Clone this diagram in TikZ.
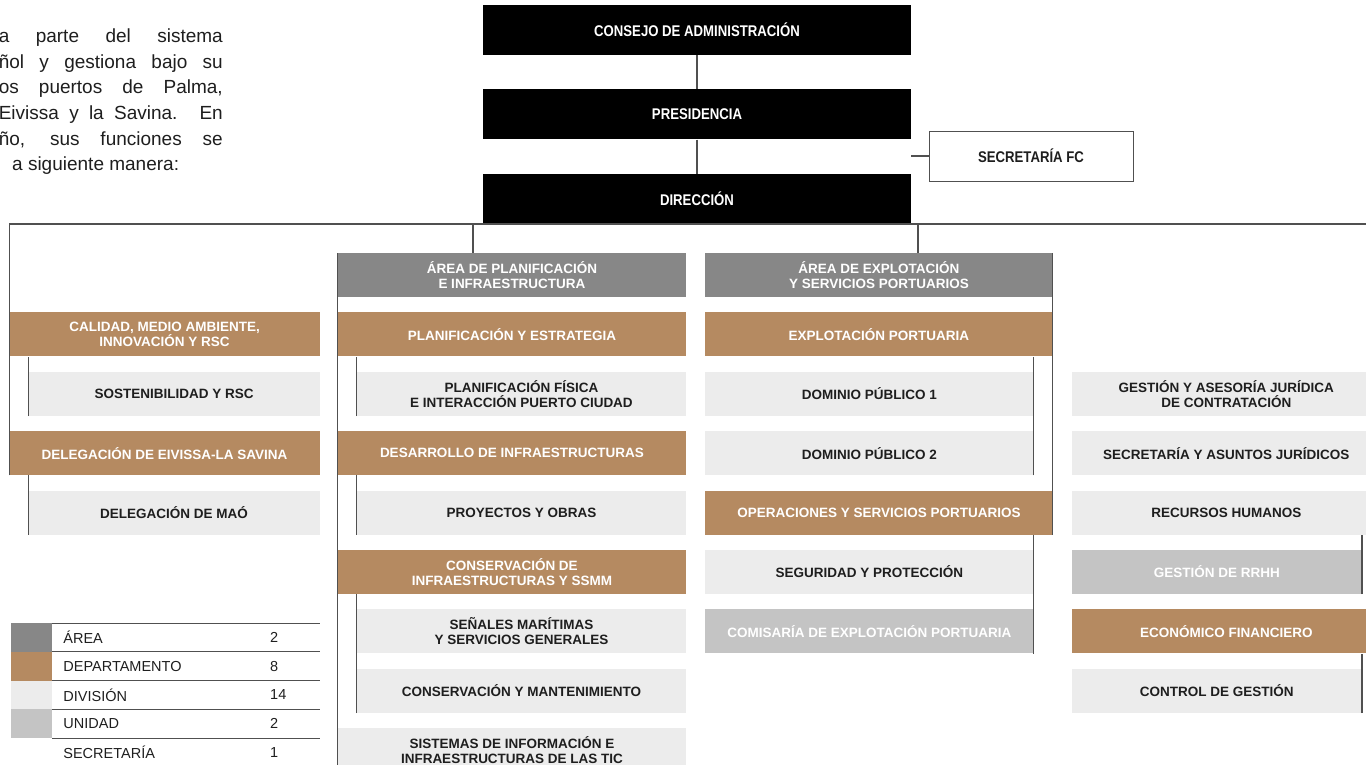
\documentclass[tikz,border=0pt]{standalone}
\usepackage{fontspec}
\setmainfont{Liberation Sans}
\newfontfamily\narrowsans{Liberation Sans}[FakeStretch=0.85]
\usetikzlibrary{positioning}

\definecolor{areagray}{RGB}{135,135,135}
\definecolor{deptbrown}{RGB}{181,138,97}
\definecolor{divgray}{RGB}{236,236,236}
\definecolor{unitgray}{RGB}{196,196,196}
\definecolor{linegray}{RGB}{80,80,80}
\definecolor{inkgray}{RGB}{30,30,30}

\begin{document}
\begin{tikzpicture}[
    x=1pt, y=-1pt,
    node distance=15pt,
    orgbox/.style={
        rectangle,
        inner sep=0pt,
        minimum height=44pt,
        align=center,
        font=\bfseries\fontsize{13.5}{15}\selectfont
    },
    headbox/.style={
        orgbox,
        fill=black,
        text=white,
        minimum width=428pt,
        minimum height=50pt,
        font=\narrowsans\bfseries\fontsize{15.5}{17}\selectfont
    },
    secbox/.style={
        headbox,
        fill=white,
        draw=linegray,
        thick,
        text=inkgray,
        minimum width=204pt
    },
    areabox/.style={orgbox, fill=areagray, text=white, minimum width=#1},
    deptbox/.style={orgbox, fill=deptbrown, text=white, minimum width=#1},
    divbox/.style={orgbox, fill=divgray, text=inkgray, minimum width=#1},
    unitbox/.style={orgbox, fill=unitgray, text=white, minimum width=#1},
    link/.style={
        draw=linegray,
        line width=1.3pt
    },
    para/.style={
        inner sep=0pt,
        text=inkgray,
        font=\fontsize{19}{22}\selectfont
    },
    swatch/.style={
        rectangle,
        inner sep=0pt,
        minimum width=41pt,
        minimum height=28.75pt
    },
    legtext/.style={
        inner sep=0pt,
        anchor=west,
        text=inkgray,
        font=\fontsize{14.5}{16}\selectfont
    },
    legrule/.style={
        draw=linegray,
        line width=0.8pt
    }
]

\useasboundingbox (0,0) rectangle (1366,765);
\clip (0,0) rectangle (1366,765);

% Intro text (cut at the left edge)
\node[para, anchor=east] (par1) at (223,38) {\makebox[224pt][s]{a parte del sistema}};
\node[para, anchor=east] (par2) at (223,63.5) {\makebox[224pt][s]{ñol y gestiona bajo su}};
\node[para, anchor=east] (par3) at (223,89) {\makebox[224pt][s]{os puertos de Palma,}};
\node[para, anchor=east] (par4) at (223,114.5) {\makebox[224pt][s]{Eivissa y la Savina. En}};
\node[para, anchor=east] (par5) at (223,140) {\makebox[224pt][s]{ño, sus funciones se}};
\node[para, anchor=west] (par6) at (12,165.5) {a siguiente manera:};

% Governing bodies
\node[headbox] (consejo) at (697,30) {CONSEJO DE ADMINISTRACIÓN};
\node[headbox, below=34pt of consejo] (presi) {PRESIDENCIA};
\node[headbox, below=34pt of presi] (direc) {DIRECCIÓN};
\node[secbox] (secfc) at (1031,156) {SECRETARÍA FC};
\coordinate (busend) at (1366,224);

% Planning area
\node[areabox=348pt] (arplan) at (512,275) {ÁREA DE PLANIFICACIÓN\\E INFRAESTRUCTURA};
\node[deptbox=348pt, below=of arplan] (planest) {PLANIFICACIÓN Y ESTRATEGIA};
\node[divbox=329pt, below=of planest.south east, anchor=north east] (planfis) {PLANIFICACIÓN FÍSICA\\E INTERACCIÓN PUERTO CIUDAD};
\node[deptbox=348pt, below=of planfis.south east, anchor=north east] (desinf) {DESARROLLO DE INFRAESTRUCTURAS};
\node[divbox=329pt, below=of desinf.south east, anchor=north east] (proyobr) {PROYECTOS Y OBRAS};
\node[deptbox=348pt, below=of proyobr.south east, anchor=north east] (consinf) {CONSERVACIÓN DE\\INFRAESTRUCTURAS Y SSMM};
\node[divbox=329pt, below=of consinf.south east, anchor=north east] (senales) {SEÑALES MARÍTIMAS\\Y SERVICIOS GENERALES};
\node[divbox=329pt, below=of senales] (consman) {CONSERVACIÓN Y MANTENIMIENTO};
\node[divbox=348pt, below=of consman.south east, anchor=north east] (sistic) {SISTEMAS DE INFORMACIÓN E\\INFRAESTRUCTURAS DE LAS TIC};

% Departments under the direction
\node[deptbox=310pt, left=18pt of planest] (calidad) {CALIDAD, MEDIO AMBIENTE,\\INNOVACIÓN Y RSC};
\node[divbox=291pt, below=of calidad.south east, anchor=north east] (sosten) {SOSTENIBILIDAD Y RSC};
\node[deptbox=310pt, below=of sosten.south east, anchor=north east] (deleiv) {DELEGACIÓN DE EIVISSA-LA SAVINA};
\node[divbox=291pt, below=of deleiv.south east, anchor=north east] (delmao) {DELEGACIÓN DE MAÓ};

% Port operations area
\node[areabox=347pt, right=19pt of arplan] (arexp) {ÁREA DE EXPLOTACIÓN\\Y SERVICIOS PORTUARIOS};
\node[deptbox=347pt, below=of arexp] (expport) {EXPLOTACIÓN PORTUARIA};
\node[divbox=328pt, below=of expport.south west, anchor=north west] (dompub1) {DOMINIO PÚBLICO 1};
\node[divbox=328pt, below=of dompub1] (dompub2) {DOMINIO PÚBLICO 2};
\node[deptbox=347pt, below=of dompub2.south west, anchor=north west] (opserv) {OPERACIONES Y SERVICIOS PORTUARIOS};
\node[divbox=328pt, below=of opserv.south west, anchor=north west] (segprot) {SEGURIDAD Y PROTECCIÓN};
\node[unitbox=328pt, below=of segprot] (comisar) {COMISARÍA DE EXPLOTACIÓN PORTUARIA};

% Services under the direction
\node[divbox=309pt, right=38pt of dompub1.east, anchor=west] (gestjur) {GESTIÓN Y ASESORÍA JURÍDICA\\DE CONTRATACIÓN};
\node[divbox=309pt, below=of gestjur] (secjur) {SECRETARÍA Y ASUNTOS JURÍDICOS};
\node[divbox=309pt, below=of secjur] (rrhum) {RECURSOS HUMANOS};
\node[unitbox=290pt, below=of rrhum.south west, anchor=north west] (gestrrhh) {GESTIÓN DE RRHH};
\node[deptbox=309pt, below=of gestrrhh.south west, anchor=north west] (ecofin) {ECONÓMICO FINANCIERO};
\node[divbox=290pt, below=of ecofin.south west, anchor=north west] (contges) {CONTROL DE GESTIÓN};

% Connectors
\draw[link] (consejo) -- (presi);
\draw[link] (presi) -- (direc);
\draw[link] (secfc.west) -- (secfc.west -| presi.east);
\draw[link] (deleiv.south west) |- (busend);
\draw[link] ([xshift=-224pt]direc.south) -- ([xshift=-224pt]direc.south |- arplan.north);
\draw[link] ([xshift=221pt]direc.south) -- ([xshift=221pt]direc.south |- arexp.north);

\draw[link] (sosten.south west) -- (sosten.south west |- calidad.south);
\draw[link] (delmao.south west) -- (delmao.south west |- deleiv.south);

\draw[link] (sistic.south west) -- (arplan.north west);
\draw[link] (planfis.south west) -- (planfis.south west |- planest.south);
\draw[link] (proyobr.south west) -- (proyobr.south west |- desinf.south);
\draw[link] (consman.south west) -- (consman.south west |- consinf.south);

\draw[link] (opserv.south east) -- (arexp.north east);
\draw[link] (dompub2.south east) -- (dompub2.south east |- expport.south);
\draw[link] (comisar.south east) -- (comisar.south east |- opserv.south);

\draw[link] (gestrrhh.south east) -- (gestrrhh.south east |- rrhum.south);
\draw[link] (contges.south east) -- (contges.south east |- ecofin.south);

% Legend
\foreach \i in {0,...,4}
    \draw[legrule] (11,{623+28.75*\i}) -- (320,{623+28.75*\i});
\foreach \lab/\num/\col [count=\i from 0] in {ÁREA/2/areagray, DEPARTAMENTO/8/deptbrown, DIVISIÓN/14/divgray, UNIDAD/2/unitgray, SECRETARÍA/1/white} {
    \node[swatch, fill=\col] (sw\i) at (31.5,{637.4+28.75*\i}) {};
    \node[legtext, right=11pt of sw\i] (lab\i) {\lab};
    \node[legtext] (num\i) at (270,{637.4+28.75*\i}) {\num};
}

\end{tikzpicture}
\end{document}
